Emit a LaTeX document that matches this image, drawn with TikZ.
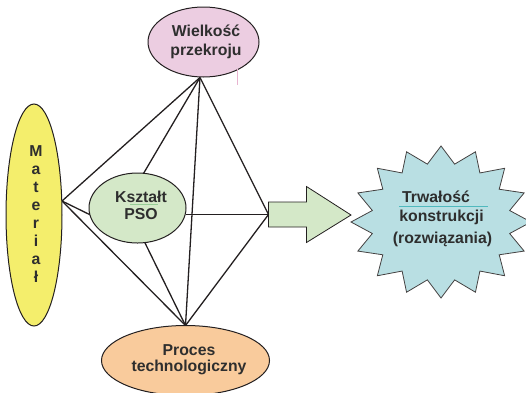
\documentclass[tikz,border=0pt]{standalone}
\usepackage{fontspec}
\setmainfont{Liberation Sans}
\usetikzlibrary{shapes.geometric,calc}
\definecolor{pinkfill}{RGB}{236,205,225}
\definecolor{yellowfill}{RGB}{244,238,108}
\definecolor{greenfill}{RGB}{212,232,200}
\definecolor{orangefill}{RGB}{249,203,156}
\definecolor{bluefill}{RGB}{185,223,227}
\definecolor{edge}{RGB}{35,31,32}
\definecolor{tealline}{RGB}{80,185,190}
\definecolor{pinkline}{RGB}{232,180,208}
\definecolor{greenline}{RGB}{150,205,150}
\pgfdeclarelayer{bg}
\pgfsetlayers{bg,main}
\begin{document}
\begin{tikzpicture}[x=1pt,y=-1pt,
  blob/.style={ellipse, draw=edge, line width=1pt, inner sep=0pt, outer sep=0pt},
  lbl/.style={font=\fontsize{15.8}{18}\selectfont\bfseries, text=black!82, align=center, inner sep=0pt},
  link/.style={draw=edge, line width=1.3pt},
  arrowblk/.style={fill=greenfill, draw=edge, line width=0.8pt, line join=miter},
  burst/.style={fill=bluefill, draw=edge!85, line width=0.8pt, line join=miter}]
\useasboundingbox (0,0) rectangle (526,392);

% factor ellipses
\node[blob, fill=pinkfill, minimum width=111pt, minimum height=70pt] (wiel) at (203.5,42) {};
\node[blob, fill=yellowfill, minimum width=56pt, minimum height=222pt] (mat) at (34,215) {};
\node[blob, fill=greenfill, minimum width=97pt, minimum height=70pt] (pso) at (137.5,208) {};
\node[blob, fill=orangefill, minimum width=168pt, minimum height=70pt] (proc) at (185.5,360.5) {};

% corners of the frame
\coordinate (apex) at (200,77.5);
\coordinate (matV) at (62,201);
\coordinate (rightV) at (268.5,214.5);
\coordinate (base) at (185.5,325.5);
\coordinate (tip) at (351,215);

\begin{pgfonlayer}{bg}
\draw[link] (apex) -- (matV);
\draw[link] (apex) -- (pso.80);
\draw[link] (apex) -- (base);
\draw[link] (apex) -- (rightV);
\draw[link] (matV) -- (pso.-172);
\draw[link] (matV) -- (base);
\draw[link] (pso.east |- rightV) -- (rightV);
\draw[link] (pso.-78) -- (base);
\draw[link] (rightV) -- (base);
\end{pgfonlayer}

% block arrow
\draw[arrowblk] ($(rightV)+(0,-12.5)$) -- ++(38,0) -- ++(0,-15.5) -- (tip)
  -- ($(rightV)+(38,28)$) -- ++(0,-15.5) -- ($(rightV)+(0,12.5)$) -- cycle;

% sixteen-point burst
\draw[burst] plot[samples at={0,...,31}, variable=\k]
  ({441+ifthenelse(mod(\k,2)==0,90,70)*cos(90+11.25*\k)},
   {222+ifthenelse(mod(\k,2)==0,76,59)*sin(90+11.25*\k)}) -- cycle;

% labels
\node[lbl, anchor=base] (w1) at (206,36.7) {Wielkość};
\node[lbl, anchor=base] (w2) at (206,55) {przekroju};
\node[lbl, anchor=base] (k1) at (141,202.7) {Kształt};
\node[lbl, anchor=base] (k2) at (141,219.3) {PSO};
\node[lbl, anchor=base] (p1) at (189,355) {Proces};
\node[lbl, anchor=base] (p2) at (189,371.7) {technologiczny};
\node[lbl] (m1) at (36,214.4) {M\\a\\t\\e\\r\\i\\a\\ł};
\node[lbl, anchor=base west] (t1) at (402,202.7) {Trwałość};
\node[lbl, anchor=base] (t2) at (441.5,221.7) {konstrukcji};
\node[lbl, anchor=base] (t3) at (442.5,243.3) {(rozwiązania)};

% stray marks
\draw[tealline, line width=0.8pt] (399,206.5) -- (488,206.5);
\draw[pinkline, line width=0.6pt] (237,69) -- (237,85);
\draw[greenline, line width=0.5pt] (130,204.5) -- (158,204.5);
\end{tikzpicture}
\end{document}
